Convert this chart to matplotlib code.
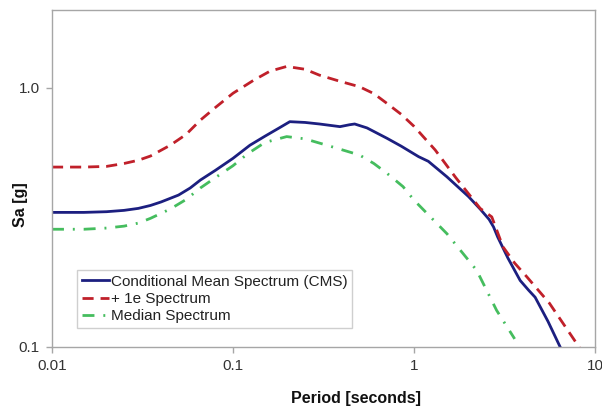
import matplotlib
matplotlib.use("Agg")
import matplotlib.pyplot as plt

plt.rcParams['font.family'] = ['Liberation Sans', 'DejaVu Sans']

# Data
cms_period = [0.01, 0.015, 0.02, 0.025, 0.03, 0.035, 0.04, 0.05, 0.058, 0.066, 0.08, 0.1,
              0.124, 0.15, 0.18, 0.206, 0.25, 0.3, 0.39, 0.44, 0.47, 0.55, 0.71, 0.85,
              1.06, 1.2, 1.52, 2.0, 2.32, 2.6, 2.75, 2.9, 3.3, 3.86, 4.3, 4.67, 5.5,
              6.4, 7.0]
cms_sa = [0.33, 0.33, 0.332, 0.336, 0.342, 0.351, 0.362, 0.385, 0.41, 0.44, 0.48, 0.534,
          0.60, 0.65, 0.70, 0.74, 0.735, 0.725, 0.708, 0.72, 0.725, 0.70, 0.638, 0.595,
          0.542, 0.52, 0.453, 0.38, 0.34, 0.31, 0.29, 0.265, 0.22, 0.18, 0.165, 0.155,
          0.125, 0.1, 0.088]

plus1_period = [0.01, 0.015, 0.02, 0.025, 0.03, 0.035, 0.045, 0.055, 0.066, 0.08, 0.1,
                0.13, 0.16, 0.198, 0.25, 0.3, 0.39, 0.5, 0.6, 0.71, 0.85, 1.0, 1.31,
                1.7, 2.32, 2.69, 3.1, 3.6, 4.2, 5.6, 7.9, 8.6]
plus1_sa = [0.494, 0.494, 0.497, 0.51, 0.525, 0.545, 0.60, 0.66, 0.75, 0.84, 0.953,
            1.07, 1.16, 1.21, 1.18, 1.12, 1.06, 1.01, 0.95, 0.87, 0.79, 0.71, 0.575,
            0.45, 0.342, 0.317, 0.243, 0.21, 0.186, 0.147, 0.103, 0.094]

median_period = [0.01, 0.015, 0.02, 0.025, 0.03, 0.035, 0.045, 0.055, 0.066, 0.08, 0.1,
                 0.12, 0.15, 0.198, 0.25, 0.33, 0.5, 0.6, 0.71, 0.87, 1.0, 1.52, 2.22,
                 2.86, 3.6]
median_sa = [0.284, 0.284, 0.287, 0.292, 0.30, 0.313, 0.34, 0.37, 0.41, 0.45, 0.50,
             0.555, 0.615, 0.648, 0.635, 0.60, 0.55, 0.51, 0.467, 0.415, 0.368, 0.273,
             0.197, 0.138, 0.107]

series_labels = ["Conditional Mean Spectrum (CMS)", "+ 1e Spectrum", "Median Spectrum"]
x_ticks = [0.01, 0.1, 1, 10]
x_ticklabels = ["0.01", "0.1", "1", "10"]
y_ticks = [0.1, 1.0]
y_ticklabels = ["0.1", "1.0"]

fig = plt.figure(figsize=(6.02, 4.11), dpi=100)
ax = fig.add_axes([52/602, 1 - 346.5/411, (595-52)/602, (346.5-10)/411])

ax.plot(cms_period, cms_sa, color='#1c1f80', lw=2.0, label=series_labels[0])
ax.plot(plus1_period, plus1_sa, color='#c0202a', lw=2.0, dashes=(4, 2.5), label=series_labels[1])
ax.plot(median_period, median_sa, color='#45bd5e', lw=2.0, dashes=(4.3, 3.2, 0.7, 3.2),
        label=series_labels[2])

ax.set_xscale('log')
ax.set_yscale('log')
ax.set_xlim(0.01, 10)
ax.set_ylim(0.1, 2.0)

ax.xaxis.set_major_locator(matplotlib.ticker.FixedLocator(x_ticks))
ax.xaxis.set_minor_locator(matplotlib.ticker.NullLocator())
ax.yaxis.set_major_locator(matplotlib.ticker.FixedLocator(y_ticks))
ax.yaxis.set_minor_locator(matplotlib.ticker.NullLocator())
ax.set_xticklabels(x_ticklabels)
ax.set_yticklabels(y_ticklabels)

for s in ax.spines.values():
    s.set_color('#a6a6a6')
    s.set_linewidth(1.0)
ax.tick_params(axis='both', which='major', direction='out', length=4, width=1,
               color='#a6a6a6', labelsize=11, labelcolor='#333333', pad=5)

ax.set_xlabel("Period [seconds]", fontsize=11.5, fontweight='bold', color='#111111')
ax.set_ylabel("Sa [g]", fontsize=11.5, fontweight='bold', color='#111111')
ax.xaxis.set_label_coords((356-52)/543, -(391-346.5)/336.5)
ax.yaxis.set_label_coords(-(52-28)/543, (346.5-205)/336.5)

leg = ax.legend(loc='lower left', bbox_to_anchor=((77-52)/543, (346.5-328)/336.5),
                borderaxespad=0, fontsize=11, handlelength=1.8, handletextpad=0.1,
                labelspacing=0.22, borderpad=0.3, fancybox=False, framealpha=1,
                edgecolor='#cfcfcf')
for t in leg.get_texts():
    t.set_color('#222222')

fig.savefig("out.png", dpi=100)
